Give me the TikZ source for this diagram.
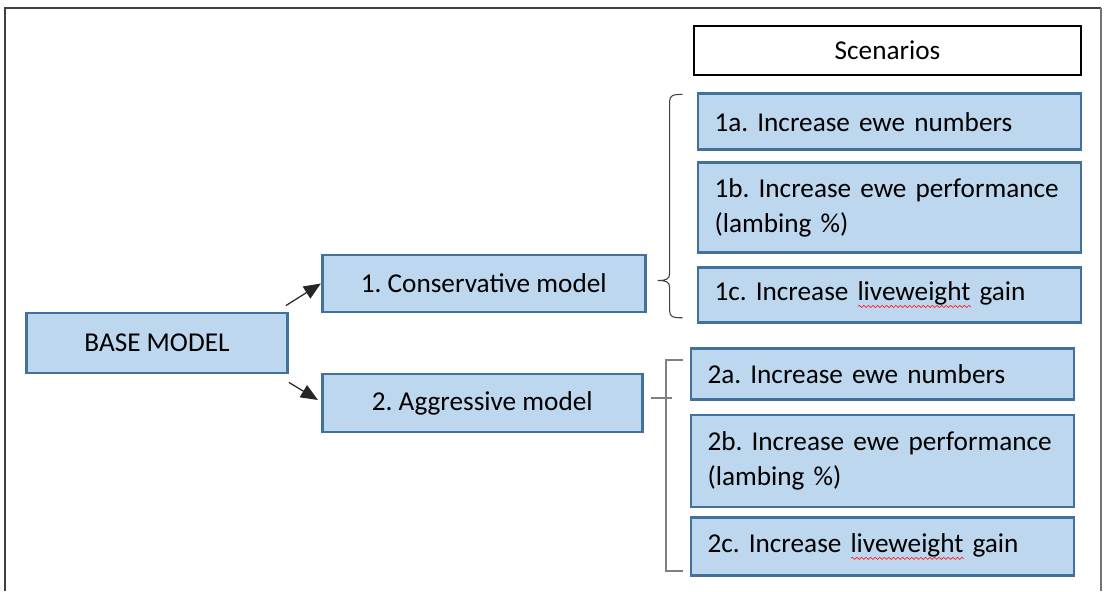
\documentclass[tikz,border=0pt]{standalone}
\usepackage{fontspec}
\setmainfont{Carlito}
\frenchspacing
\definecolor{boxfill}{RGB}{189,215,238}
\definecolor{boxline}{RGB}{65,113,156}
\definecolor{bracegray}{RGB}{64,64,64}
\definecolor{bracketgray}{RGB}{128,128,128}
\usetikzlibrary{arrows.meta, positioning, calc, decorations.pathmorphing}
\newcommand{\spellwave}[1]{\setbox0\hbox{#1}\rlap{\tikz[baseline=0pt]\draw[red!85, line width=0.4pt, decorate, decoration={snake, amplitude=0.6pt, segment length=2.6pt}] (0pt,-3.2pt) -- (\the\wd0,-3.2pt);}\box0\relax}
\tikzset{
  model/.style={rectangle, minimum height=1.14cm, text centered, draw=boxline, fill=boxfill, line width=1.6pt, font=\fontsize{15.5}{20}\selectfont},
  scenario/.style={rectangle, text width=7.0cm, inner xsep=0.33cm, align=left, draw=boxline, fill=boxfill, line width=1.6pt, font=\fontsize{15.5}{20}\selectfont},
  header/.style={rectangle, minimum width=7.74cm, minimum height=0.98cm, text centered, draw=black, fill=white, line width=1.6pt, font=\fontsize{15.5}{20}\selectfont},
  arrow/.style={line width=0.7pt, draw=black!85, -{Triangle[length=0.34cm, width=0.28cm]}},
  brace/.style={line width=0.6pt, draw=bracegray},
  bracket/.style={line width=1pt, draw=bracketgray}
}

\begin{document}
\begin{tikzpicture}[x=0.02cm, y=-0.02cm]
  \useasboundingbox (0,0) rectangle (1104,591);

  % Frame
  \draw[black!75, line width=1.3pt] (5,591) -- (5,8) -- (1101,8);
  \draw[black!55, line width=0.8pt] (1101,8) -- (1101,591);

  % Models
  \node (base) [model, minimum width=5.22cm, minimum height=1.2cm] at (157,343) {BASE MODEL};
  \node (cons) [model, minimum width=6.46cm, right=0.64cm of base, yshift=1.19cm] {1. Conservative model};
  \node (aggr) [model, minimum width=6.4cm, minimum height=1.16cm, right=0.64cm of base, yshift=-1.2cm] {2. Aggressive model};

  % Connections from base
  \draw [arrow] ($(base.north east)+(-3,-6)$) -- (cons.west);
  \draw [arrow] ($(base.south east)+(0,8)$) -- ($(aggr.west)+(-3,-3)$);

  % Scenarios
  \node (scen) [header] at (887.5,50.5) {Scenarios};
  \node (s1a) [scenario, minimum height=1.12cm, below=0.32cm of scen, xshift=0.04cm] {1a. Increase ewe numbers};
  \node (s1b) [scenario, minimum height=1.8cm, below=0.2cm of s1a] {1b. Increase ewe performance\\(lambing \%)};
  \node (s1c) [scenario, minimum height=1.1cm, below=0.24cm of s1b] {1c. Increase \spellwave{liveweight} gain};
  \node (s2a) [scenario, minimum height=1.02cm, below=0.46cm of s1c, xshift=-0.14cm] {2a. Increase ewe numbers};
  \node (s2b) [scenario, minimum height=1.84cm, below=0.26cm of s2a] {2b. Increase ewe performance\\(lambing \%)};
  \node (s2c) [scenario, minimum height=1.16cm, below=0.16cm of s2b] {2c. Increase \spellwave{liveweight} gain};

  % Brace for conservative scenarios
  \coordinate (b1t) at ($(s1a.north west)+(-14,2)$);
  \coordinate (b1b) at ($(s1c.south west)+(-14,-6)$);
  \coordinate (b1m) at ($(cons.east)+(11,-3)$);
  \coordinate (b1x) at ($(b1t)+(-13,0)$);
  \draw [brace] (b1t) .. controls +(-10,0) and +(0,-6) .. ($(b1x)+(0,7)$)
    -- ($(b1x |- b1m)+(0,-7)$) .. controls +(0,6) and +(8,0) .. (b1m)
    .. controls +(8,0) and +(0,-6) .. ($(b1x |- b1m)+(0,7)$)
    -- ($(b1x |- b1b)+(0,-7)$) .. controls +(0,6) and +(-10,0) .. (b1b);

  % Bracket for aggressive scenarios
  \coordinate (b2t) at ($(s2a.north west)+(-7,13)$);
  \coordinate (b2b) at ($(s2c.south west)+(-7,-6)$);
  \coordinate (b2m) at ($(aggr.east)+(7,-5)$);
  \draw [bracket] (b2t) -- ++(-17,0) |- (b2b);
  \draw [bracket] (b2m) -- ++(21,0);

\end{tikzpicture}
\end{document}
